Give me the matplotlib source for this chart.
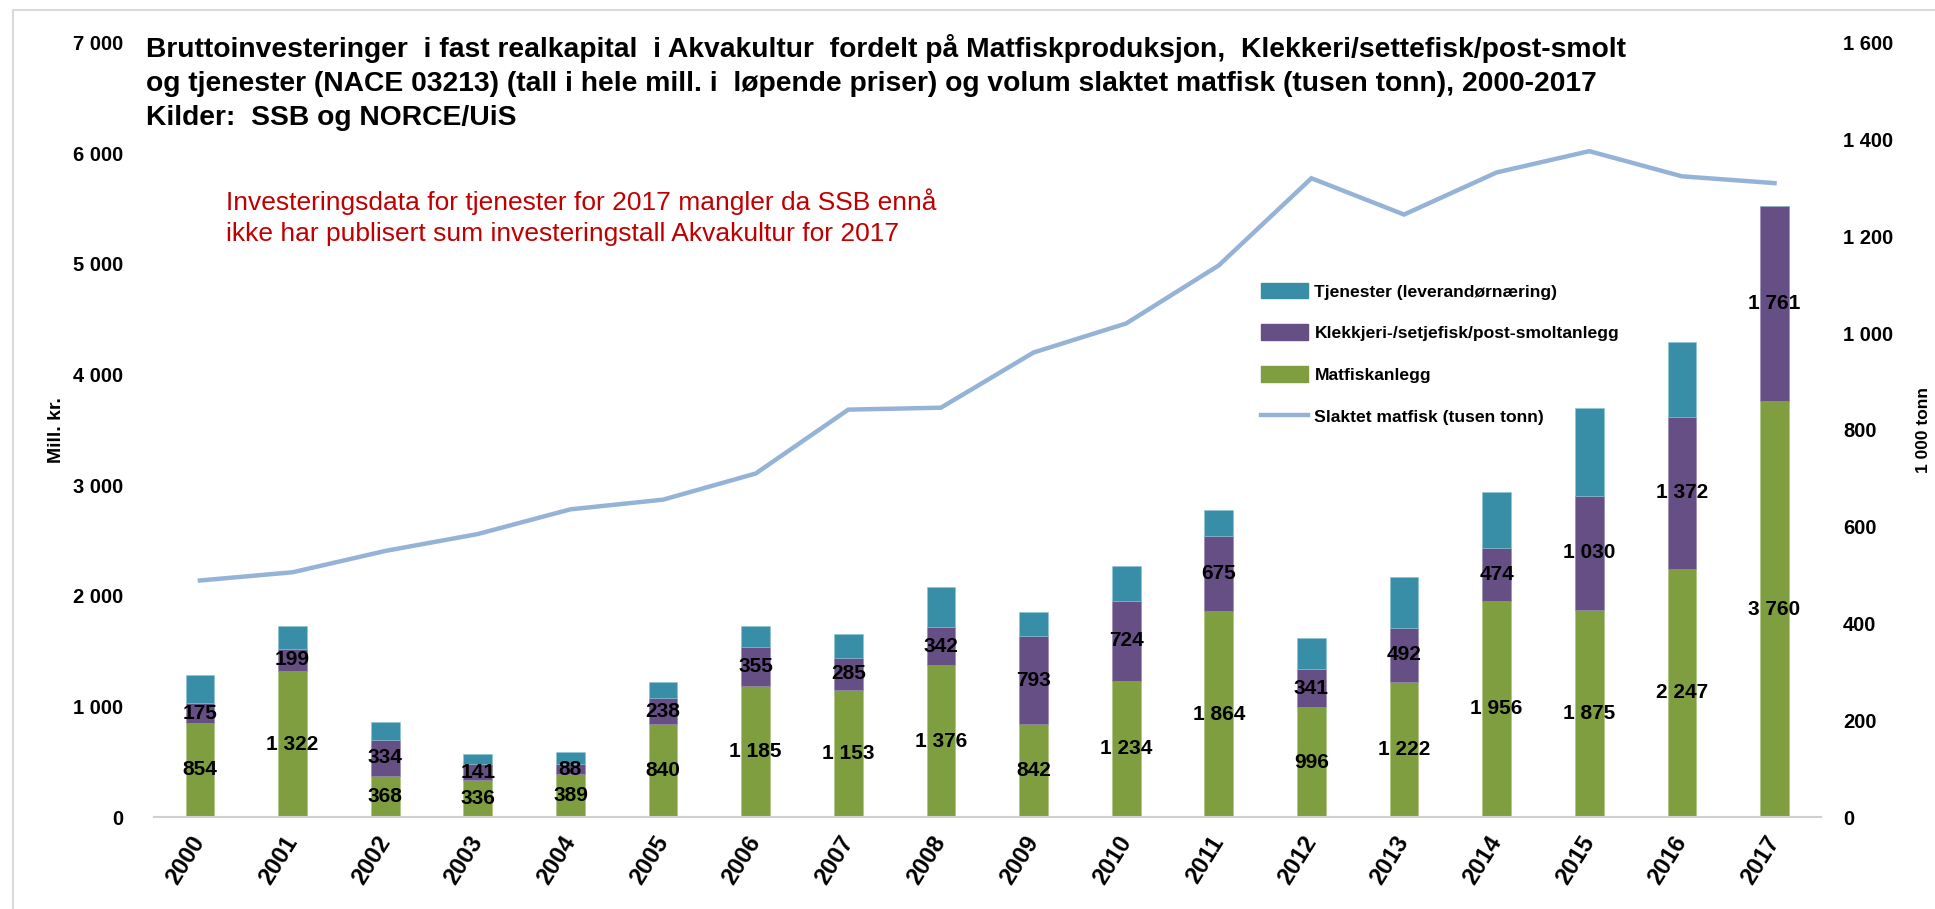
import numpy as np
import matplotlib
matplotlib.use("Agg")
from matplotlib import pyplot as plt
from matplotlib.patches import Rectangle, Patch
from matplotlib.lines import Line2D
from matplotlib.ticker import FuncFormatter

plt.rcParams['font.family'] = ['Liberation Sans', 'DejaVu Sans']

years = ['2000', '2001', '2002', '2003', '2004', '2005', '2006', '2007', '2008',
         '2009', '2010', '2011', '2012', '2013', '2014', '2015', '2016', '2017']
matfisk = [854, 1322, 368, 336, 389, 840, 1185, 1153, 1376, 842, 1234, 1864,
           996, 1222, 1956, 1875, 2247, 3760]
klekkeri = [175, 199, 334, 141, 88, 238, 355, 285, 342, 793, 724, 675,
            341, 492, 474, 1030, 1372, 1761]
tjenester = [260, 210, 158, 96, 108, 140, 191, 219, 366, 216, 308, 237,
             281, 453, 510, 797, 676, 0]
slaktet = [489, 506, 550, 585, 636, 656, 710, 842, 846, 960, 1020, 1140,
           1320, 1245, 1332, 1376, 1324, 1310]

c_green = '#7F9E3F'
c_purple = '#664F84'
c_teal = '#378EA6'
c_line = '#95B3D7'

def space_thousands(v, pos=None):
    return f"{int(round(v)):,}".replace(',', ' ')

fig = plt.figure(figsize=(19.35, 9.09), dpi=100)
ax = fig.add_axes([0.0794, 0.101, 0.8616, 0.852])
ax2 = ax.twinx()

x = np.arange(len(years))
w = 0.31
mat = np.array(matfisk)
kle = np.array(klekkeri)
tje = np.array(tjenester)

ax.bar(x, mat, w, color=c_green, edgecolor='#A9C27A', linewidth=0.4, zorder=2)
ax.bar(x, kle, w, bottom=mat, color=c_purple, edgecolor='#9484AC', linewidth=0.4, zorder=2)
ax.bar(x, tje, w, bottom=mat + kle, color=c_teal, edgecolor='#8CC4D4', linewidth=0.4, zorder=2)

# data labels centred in the green and purple segments
for i in range(len(years)):
    ax.text(x[i], mat[i] / 2, space_thousands(mat[i]), ha='center', va='center',
            fontsize=15, fontweight='bold', zorder=5)
    ax.text(x[i], mat[i] + kle[i] / 2, space_thousands(kle[i]), ha='center', va='center',
            fontsize=15, fontweight='bold', zorder=5)

ax2.plot(x, slaktet, color=c_line, lw=3.2, solid_joinstyle='miter')

ax.set_xlim(-0.5, len(years) - 0.5)
ax.set_ylim(0, 7000)
ax2.set_ylim(0, 1600)
ax.set_yticks(np.arange(0, 7001, 1000))
ax2.set_yticks(np.arange(0, 1601, 200))
ax.yaxis.set_major_formatter(FuncFormatter(space_thousands))
ax2.yaxis.set_major_formatter(FuncFormatter(space_thousands))

ax.set_xticks(x)
ax.set_xticklabels(years, rotation=58, ha='right', va='center', rotation_mode='anchor',
                   fontsize=17, fontweight='bold')
ax.tick_params(axis='x', length=0, pad=15)
ax.tick_params(axis='y', length=0, pad=22, labelsize=14.5)
ax2.tick_params(axis='y', length=0, pad=16, labelsize=14.5)
for lab in ax.get_yticklabels() + ax2.get_yticklabels():
    lab.set_fontweight('bold')

for a in (ax, ax2):
    for s in ('top', 'left', 'right'):
        a.spines[s].set_visible(False)
ax.spines['bottom'].set_color('#D0D0D0')
ax.spines['bottom'].set_linewidth(1.5)
ax2.spines['bottom'].set_visible(False)

ax.set_ylabel('Mill. kr.', fontsize=14, fontweight='bold')
ax.yaxis.set_label_coords(-0.053, 0.5)
ax2.set_ylabel('1 000 tonn', fontsize=12.5, fontweight='bold')
ax2.yaxis.set_label_coords(1.057, 0.5)

fig.text(0.0755, 0.963,
         "Bruttoinvesteringer  i fast realkapital  i Akvakultur  fordelt på Matfiskproduksjon,  Klekkeri/settefisk/post-smolt\n"
         "og tjenester (NACE 03213) (tall i hele mill. i  løpende priser) og volum slaktet matfisk (tusen tonn), 2000-2017\n"
         "Kilder:  SSB og NORCE/UiS",
         ha='left', va='top', fontsize=20.3, fontweight='bold', linespacing=1.42)

fig.text(0.117, 0.793,
         "Investeringsdata for tjenester for 2017 mangler da SSB ennå\n"
         "ikke har publisert sum investeringstall Akvakultur for 2017",
         ha='left', va='top', fontsize=19, color='#C00000', linespacing=1.4)

handles = [Patch(color=c_teal), Patch(color=c_purple), Patch(color=c_green),
           Line2D([0], [0], color=c_line, lw=3.2)]
labels = ['Tjenester (leverandørnæring)', 'Klekkjeri-/setjefisk/post-smoltanlegg',
          'Matfiskanlegg', 'Slaktet matfisk (tusen tonn)']
leg = ax2.legend(handles, labels, loc='upper left', bbox_to_anchor=(0.6517, 0.689),
                 bbox_transform=fig.transFigure, frameon=False,
                 prop={'weight': 'bold', 'size': 12.6}, handlelength=2.7, handleheight=1.0,
                 handletextpad=0.35, labelspacing=1.42, borderpad=0, borderaxespad=0)

fig.patches.append(Rectangle((13 / 1935, -0.05), 1.2, 1 - 10 / 909 + 0.05,
                             transform=fig.transFigure, fill=False,
                             edgecolor='#D9D9D9', linewidth=1.5))

fig.savefig('out.png', dpi=100)
